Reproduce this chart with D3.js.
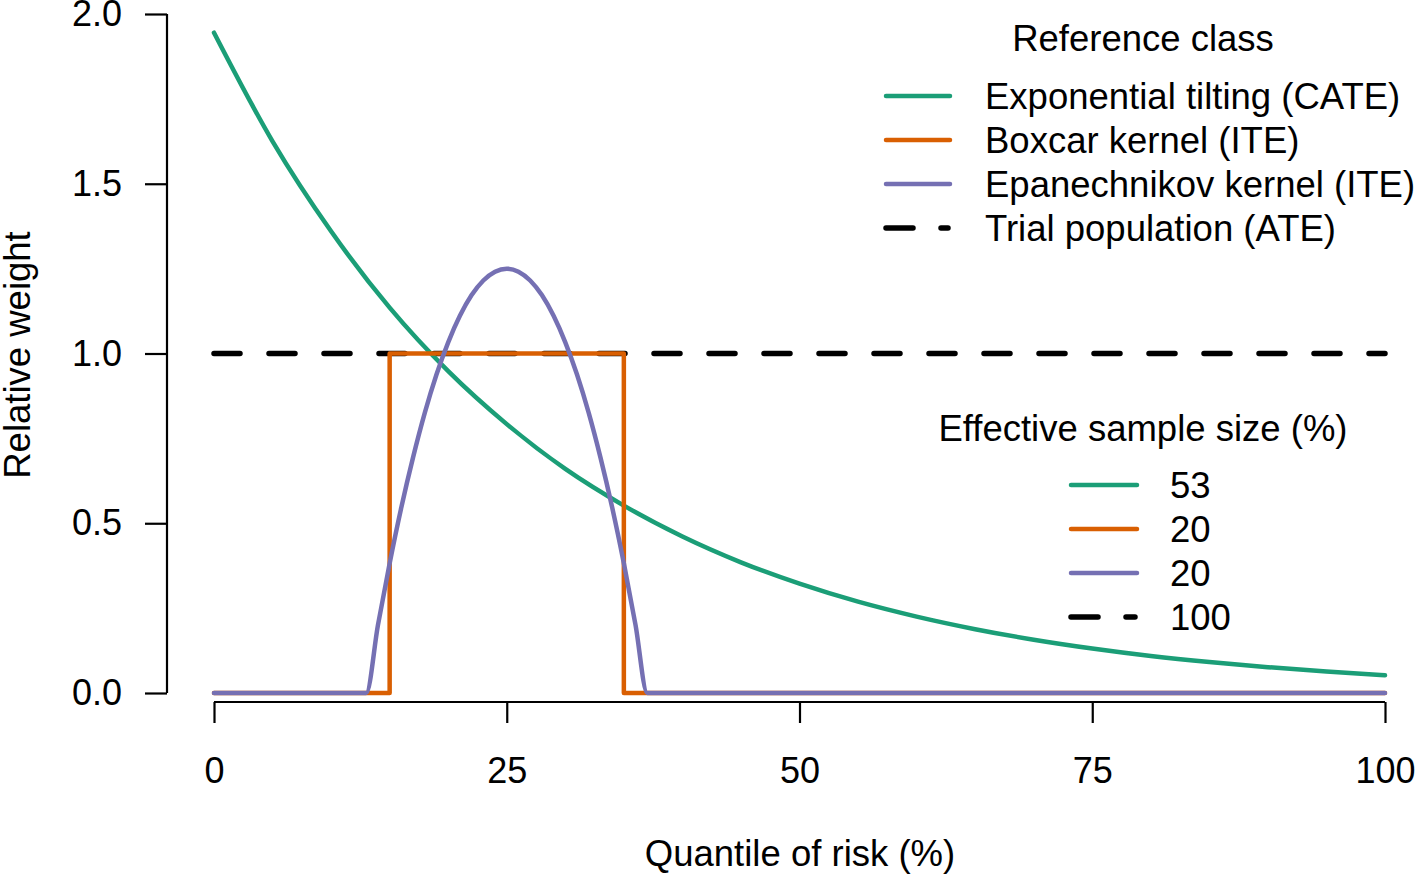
<!DOCTYPE html>
<html>
<head>
<meta charset="utf-8">
<script src="https://cdn.jsdelivr.net/npm/d3@7"></script>
<style>
  body { margin: 0; background: #fff; }
  text { font-family: "Liberation Sans", Arial, Helvetica, sans-serif; fill: #000; }
</style>
</head>
<body>
<div id="chart"></div>
<script>
// data
var tiltX = [0, 5, 10, 15, 20, 25, 30, 35, 40, 45, 50, 55, 60, 65, 70, 75, 80, 85, 90, 95, 100];
var tiltY = [1.945, 1.625, 1.36, 1.135, 0.948, 0.792, 0.66, 0.552, 0.461, 0.385, 0.322, 0.269, 0.225, 0.188, 0.157, 0.131, 0.109, 0.091, 0.076, 0.063, 0.052];

var boxX = [0, 15, 15, 35, 35, 100];
var boxY = [0, 0, 1, 1, 0, 0];

var epanX = [0, 13, 14, 15, 16, 17, 18, 19, 20, 21, 22, 23, 24, 25, 26, 27, 28, 29, 30, 31, 32, 33, 34, 35, 36, 37, 100];
var epanY = [0, 0, 0.2, 0.382, 0.547, 0.694, 0.825, 0.938, 1.033, 1.111, 1.172, 1.215, 1.241, 1.25, 1.241, 1.215, 1.172, 1.111, 1.033, 0.938, 0.825, 0.694, 0.547, 0.382, 0.2, 0, 0];

var trialX = [0, 100];
var trialY = [1, 1];

var xTicks = [0, 25, 50, 75, 100];
var yTicks = [0, 0.5, 1, 1.5, 2];

var refLabels = ["Exponential tilting (CATE)", "Boxcar kernel (ITE)", "Epanechnikov kernel (ITE)", "Trial population (ATE)"];
var essLabels = ["53", "20", "20", "100"];
var colors = ["#1b9e77", "#d95f02", "#7570b3", "#000000"];

var W = 1415, H = 877;
var FS = "36.5px", TFS = "36px";
var svg = d3.select("#chart").append("svg")
    .attr("width", W)
    .attr("height", H);

var x = d3.scaleLinear().domain([0, 100]).range([214, 1385]);
var y = d3.scaleLinear().domain([0, 2]).range([693, 14]);

// y axis
var yAxis = svg.append("g")
    .attr("transform", "translate(167,0)")
    .call(d3.axisLeft(y).tickValues(yTicks).tickSize(22).tickPadding(23).tickFormat(d3.format(".1f")));
// x axis
var xAxis = svg.append("g")
    .attr("transform", "translate(0,702)")
    .call(d3.axisBottom(x).tickValues(xTicks).tickSize(21).tickPadding(34).tickFormat(d3.format("d")));

[yAxis, xAxis].forEach(function(a) {
  a.select(".domain").attr("stroke", "#000").attr("stroke-width", 2.2);
  a.selectAll(".tick line").attr("stroke", "#000").attr("stroke-width", 2.2);
  a.selectAll(".tick text").style("font-size", TFS).attr("fill", "#000");
});
// R-style axes: the line only spans the ticks
yAxis.select(".domain").attr("d", "M0," + y(0) + "V" + y(2));
xAxis.select(".domain").attr("d", "M" + x(0) + ",0H" + x(100));

// axis titles
svg.append("text")
    .attr("x", 800).attr("y", 866)
    .attr("text-anchor", "middle")
    .style("font-size", FS)
    .text("Quantile of risk (%)");
svg.append("text")
    .attr("transform", "translate(30,355) rotate(-90)")
    .attr("text-anchor", "middle")
    .style("font-size", FS)
    .text("Relative weight");

var line = d3.line().x(function(d) { return x(d[0]); }).y(function(d) { return y(d[1]); });
var curve = d3.line().curve(d3.curveMonotoneX).x(function(d) { return x(d[0]); }).y(function(d) { return y(d[1]); });

function zip(a, b) { return a.map(function(v, i) { return [v, b[i]]; }); }

svg.append("path")
    .attr("d", line(zip(trialX, trialY)))
    .attr("fill", "none").attr("stroke", "#000").attr("stroke-width", 5.5)
    .attr("stroke-dasharray", "26,29").attr("stroke-linecap", "round");

svg.append("path")
    .attr("d", curve(zip(tiltX, tiltY)))
    .attr("fill", "none").attr("stroke", colors[0]).attr("stroke-width", 4.5)
    .attr("stroke-linecap", "round");

svg.append("path")
    .attr("d", line(zip(boxX, boxY)))
    .attr("fill", "none").attr("stroke", colors[1]).attr("stroke-width", 4.5)
    .attr("stroke-linejoin", "round").attr("stroke-linecap", "round");

svg.append("path")
    .attr("d", curve(zip(epanX, epanY)))
    .attr("fill", "none").attr("stroke", colors[2]).attr("stroke-width", 4.5)
    .attr("stroke-linejoin", "round").attr("stroke-linecap", "round");

// legends
function legend(title, labels, titleY, lineX0, lineX1, textX, rowY0) {
  var g = svg.append("g");
  g.append("text")
      .attr("x", 1143).attr("y", titleY)
      .attr("text-anchor", "middle")
      .style("font-size", FS)
      .text(title);
  labels.forEach(function(lab, i) {
    var yy = rowY0 + i * 44;
    var dashed = i == 3;
    g.append("line")
        .attr("x1", lineX0).attr("x2", dashed ? lineX1 - 2 : lineX1)
        .attr("y1", yy).attr("y2", yy)
        .attr("stroke", colors[i])
        .attr("stroke-width", dashed ? 5.5 : 4.5)
        .attr("stroke-linecap", "round")
        .attr("stroke-dasharray", dashed ? "27,28" : null);
    g.append("text")
        .attr("x", textX).attr("y", yy + 13)
        .style("font-size", FS)
        .text(lab);
  });
}
legend("Reference class", refLabels, 51, 886, 950, 985, 96);
legend("Effective sample size (%)", essLabels, 441, 1071, 1137, 1170, 485);
</script>
</body>
</html>
